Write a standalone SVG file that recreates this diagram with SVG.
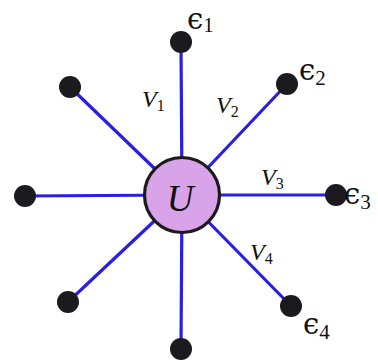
<svg xmlns="http://www.w3.org/2000/svg" width="378" height="363" viewBox="0 0 378 363">
<style>
.edge{stroke:#2a1fe0;stroke-width:3.2;fill:none}
.leaf{fill:#1b1b1f}
.lbl{font-family:"Liberation Serif","DejaVu Serif",serif;fill:#111;font-size:24px;font-style:italic}
.sub{font-size:16px;font-style:normal}
.big{font-family:"Liberation Serif","DejaVu Serif",serif;fill:#111;font-size:37px;font-style:italic}
.eps{font-family:"DejaVu Serif","Liberation Serif",serif;fill:#111;font-size:29px}
.epsub{font-family:"Liberation Serif",serif;font-size:21px}
</style>
<rect width="378" height="363" fill="#fff"/>
<g id="connectors">
<line class="edge" x1="182" y1="195" x2="181" y2="42"/>
<line class="edge" x1="182" y1="195" x2="287" y2="84"/>
<line class="edge" x1="182" y1="195" x2="336" y2="195"/>
<line class="edge" x1="182" y1="195" x2="291" y2="306"/>
<line class="edge" x1="182" y1="195" x2="181" y2="349"/>
<line class="edge" x1="182" y1="195" x2="68" y2="302"/>
<line class="edge" x1="182" y1="195" x2="25" y2="196"/>
<line class="edge" x1="182" y1="195" x2="70" y2="87"/>
</g>
<g id="U">
<circle cx="182" cy="195" r="37.5" fill="#d9a3ea" stroke="#1b1b1b" stroke-width="3.2"/>
<text class="big" x="180" y="211" text-anchor="middle">U</text>
</g>
<g id="n1"><circle class="leaf" cx="181" cy="42" r="11"/><text class="eps" x="187" y="29">ϵ<tspan class="epsub" dy="3">1</tspan></text></g>
<g id="n2"><circle class="leaf" cx="287" cy="84" r="11"/><text class="eps" x="299" y="80">ϵ<tspan class="epsub" dy="5">2</tspan></text></g>
<g id="n3"><circle class="leaf" cx="336" cy="195" r="11"/><text class="eps" x="344" y="204">ϵ<tspan class="epsub" dy="5">3</tspan></text></g>
<g id="n4"><circle class="leaf" cx="291" cy="306" r="11"/><text class="eps" x="303" y="334">ϵ<tspan class="epsub" dy="5">4</tspan></text></g>
<g id="n5"><circle class="leaf" cx="181" cy="349" r="11"/></g>
<g id="n6"><circle class="leaf" cx="68" cy="302" r="11"/></g>
<g id="n7"><circle class="leaf" cx="25" cy="196" r="11"/></g>
<g id="n8"><circle class="leaf" cx="70" cy="87" r="11"/></g>
<g id="labels">
<text class="lbl" x="142" y="107">V<tspan class="sub" dy="4">1</tspan></text>
<text class="lbl" x="216" y="113">V<tspan class="sub" dy="4">2</tspan></text>
<text class="lbl" x="261" y="185">V<tspan class="sub" dy="4">3</tspan></text>
<text class="lbl" x="250" y="260">V<tspan class="sub" dy="4">4</tspan></text>
</g>
</svg>
